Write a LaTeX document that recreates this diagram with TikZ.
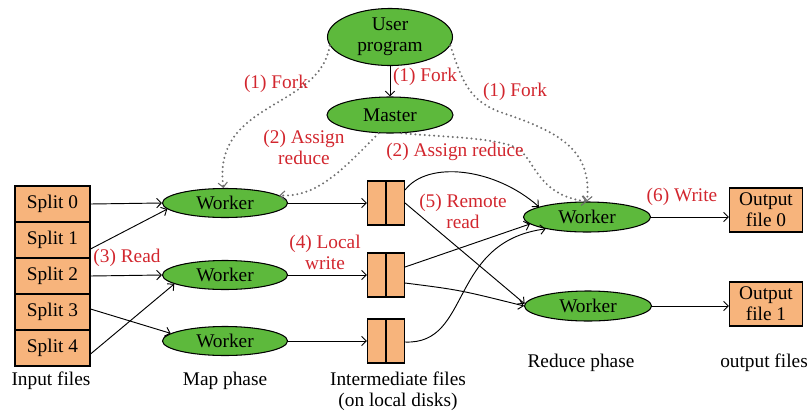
\documentclass[tikz,border=0pt]{standalone}
\usepackage{fontspec}
\setmainfont{Liberation Serif}
\usetikzlibrary{shapes.geometric,arrows.meta,calc}
\definecolor{wgreen}{HTML}{5DB93C}
\definecolor{forange}{HTML}{F7B47C}
\definecolor{lred}{HTML}{D2262E}
\definecolor{dgray}{HTML}{6E6E6E}
\begin{document}
\begin{tikzpicture}[x=0.03cm,y=-0.03cm,
  font=\fontsize{16.5}{18}\selectfont,
  ell/.style={ellipse,draw=black,fill=wgreen,line width=0.9pt,inner sep=0pt,align=center},
  fbox/.style={rectangle,draw=black,fill=forange,line width=0.9pt,inner sep=0pt,align=center},
  lab/.style={text=lred,align=center,inner sep=0pt},
  txt/.style={align=center,inner sep=0pt},
  arr/.style={line width=0.8pt,-{Straight Barb[length=4pt,width=8pt]}},
  dotarr/.style={dgray,line width=1.9pt,dash pattern=on 0pt off 4pt,line cap=round,
     -{Straight Barb[length=4pt,width=8pt,line width=0.9pt,line cap=butt]}}]
\useasboundingbox (0,0) rectangle (812,415);

% top
\node[ell,minimum width=3.75cm,minimum height=1.71cm] (up) at (390,37) {User\\program};
\node[ell,minimum width=3.78cm,minimum height=1.08cm] (ma) at (390,115) {Master};

% input splits
\foreach \i/\y in {0/204,1/240,2/276,3/312,4/348}{
  \node[fbox,minimum width=2.25cm,minimum height=1.08cm] (s\i) at (52.5,\y) {Split \i};
}

% map workers
\node[ell,minimum width=3.75cm,minimum height=0.87cm] (w0) at (225,203) {Worker};
\node[ell,minimum width=3.75cm,minimum height=0.87cm] (w1) at (225,275) {Worker};
\node[ell,minimum width=3.75cm,minimum height=0.87cm] (w2) at (225,341) {Worker};

% intermediate files
\node[fbox,minimum width=1.11cm,minimum height=1.32cm] (i0) at (386,203) {};
\node[fbox,minimum width=1.11cm,minimum height=1.32cm] (i1) at (386,275) {};
\node[fbox,minimum width=1.11cm,minimum height=1.32cm] (i2) at (386,341) {};
\foreach \n in {i0,i1,i2}{\draw[line width=0.9pt] (\n.north) -- (\n.south);}

% reduce workers
\node[ell,minimum width=3.81cm,minimum height=0.9cm] (r0) at (587,217) {Worker};
\node[ell,minimum width=3.81cm,minimum height=0.9cm] (r1) at (588,306) {Worker};

% outputs
\node[fbox,minimum width=2.19cm,minimum height=1.32cm] (o0) at (766,210) {Output\\file 0};
\node[fbox,minimum width=2.19cm,minimum height=1.32cm] (o1) at (766,304) {Output\\file 1};

% solid connectors
\draw[arr] (up) -- (ma);
\draw[arr] (s0.east) -- (w0.west);
\draw[arr] ($(s1.east)+(0,9)$) -- (w0.186);
\draw[arr] (s2.east) -- (w1.west);
\draw[arr] ($(s3.east)+(0,-3)$) -- (w2.172);
\draw[arr] ($(s4.east)+(0,6)$) -- (w1.190);
\draw[arr] (w0.east) -- (i0.west);
\draw[arr] (w1.east) -- (i1.west);
\draw[arr] (w2.east) -- (i2.west);
\draw[arr] ($(i0.east)+(0,-13)$) .. controls (428,160) and (495,168) .. (r0.168);
\draw[arr] (i0.east) -- (r1.178);
\draw[arr] ($(i1.east)+(0,-8)$) -- (r0.187);
\draw[arr] ($(i1.east)+(0,8)$) .. controls (460,290) .. (r1.west);
\draw[arr] ($(i2.east)+(0,1)$) .. controls (472,345) and (448,242) .. (r0.196);
\draw[arr] (r0.east) -- (o0.west |- r0.east);
\draw[arr] (r1.east) -- (o1.west |- r1.east);

% dotted connectors
\draw[dotarr] (up.188) .. controls (320,110) and (212,100) .. (w0.96);
\draw[dotarr] (ma.238) .. controls (338,175) and (315,197) .. (w0.8);
\draw[dotarr] (ma.302) .. controls (440,137) and (490,137) .. (515,147)
   .. controls (535,156) and (535,195) .. (r0.north);
\draw[dotarr] (up.352) .. controls (462,80) and (468,100) .. (500,112)
   .. controls (560,132) and (592,150) .. (r0.north);

% labels
\node[lab] (l1) at (425,77) {(1) Fork};
\node[lab] (l2) at (276,84) {(1) Fork};
\node[lab] (l3) at (515,92) {(1) Fork};
\node[lab] (l4) at (304,147) {(2) Assign\\reduce};
\node[lab] (l5) at (455,152) {(2) Assign reduce};
\node[lab] (l6) at (127,258) {(3) Read};
\node[lab] (l7) at (325,252) {(4) Local\\write};
\node[lab] (l8) at (463,211) {(5) Remote\\read};
\node[lab] (l9) at (682,197) {(6) Write};

\node[txt] (t1) at (51,381) {Input files};
\node[txt] (t2) at (225,381) {Map phase};
\node[txt] (t3) at (398,391) {Intermediate files\\(on local disks)};
\node[txt] (t4) at (581,363) {Reduce phase};
\node[txt] (t5) at (764,363) {output files};
\end{tikzpicture}
\end{document}
